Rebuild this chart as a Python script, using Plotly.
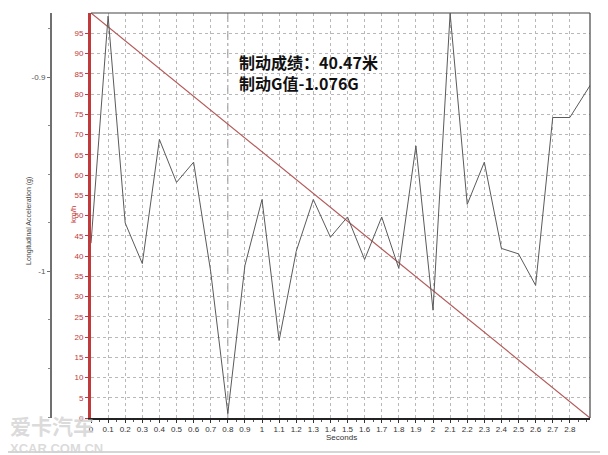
import plotly.graph_objects as go

# ---- data ----
time_s = [0, 0.1, 0.2, 0.3, 0.4, 0.5, 0.6, 0.7, 0.8, 0.9, 1.0, 1.1, 1.2, 1.3, 1.4,
          1.5, 1.6, 1.7, 1.8, 1.9, 2.0, 2.1, 2.2, 2.3, 2.4, 2.5, 2.6, 2.7, 2.8, 2.92]
accel_g = [-0.9855, -0.8686, -0.9751, -0.9960, -0.9321, -0.9542, -0.9438, -1.0002,
           -1.0732, -0.9970, -0.9630, -1.0356, -0.9897, -0.9630, -0.9824, -0.9720,
           -0.9939, -0.9720, -0.9985, -0.9354, -1.0200, -0.8672, -0.9655, -0.9438,
           -0.9882, -0.9910, -1.0072, -0.9208, -0.9208, -0.9041]
speed_time = [0, 2.918]
speed_kmh = [100, 0]
cursor_time = 0.8

x_tickvals = [round(i * 0.1, 1) for i in range(29)]
x_ticktext = ["0", "0.1", "0.2", "0.3", "0.4", "0.5", "0.6", "0.7", "0.8", "0.9", "1",
              "1.1", "1.2", "1.3", "1.4", "1.5", "1.6", "1.7", "1.8", "1.9", "2",
              "2.1", "2.2", "2.3", "2.4", "2.5", "2.6", "2.7", "2.8"]
kmh_tickvals = list(range(0, 100, 5))
g_tickvals = [-1.0, -0.9]
g_ticktext = ["-1", "-0.9"]

result_line1 = "制动成绩：40.47米"
result_line2 = "制动G值-1.076G"

RED = "#c0393b"
GRID = "#b8b8b8"
FONT = "Liberation Sans, Arial, sans-serif"

# page pixel -> paper coordinate helpers (plot area spans page x 40..590, y 13..418)
def px(x):
    return (x - 40) / 550


def py(y):
    return (418 - y) / 405


fig = go.Figure()
fig.add_trace(go.Scatter(x=time_s, y=accel_g, mode="lines", yaxis="y2",
                         line=dict(color="#5a5a5a", width=1), showlegend=False))
fig.add_trace(go.Scatter(x=speed_time, y=speed_kmh, mode="lines", yaxis="y",
                         line=dict(color="#b45a5a", width=1.2), showlegend=False))

fig.add_shape(type="line", xref="x", yref="y domain", x0=cursor_time, x1=cursor_time,
              y0=0, y1=1, line=dict(color="#8a8a8a", width=1, dash="dashdot"), layer="below")
# plot frame top and right
fig.add_shape(type="line", xref="x domain", yref="y domain", x0=0, x1=1, y0=1, y1=1,
              line=dict(color="#444", width=1.2))
fig.add_shape(type="line", xref="x domain", yref="y domain", x0=1, x1=1, y0=0, y1=1,
              line=dict(color="#444", width=1.2))
# outer picture frame
fig.add_shape(type="line", xref="paper", yref="paper", x0=px(8), x1=px(606), y0=py(452), y1=py(452),
              line=dict(color="#c8c8c8", width=1.5))
fig.add_shape(type="line", xref="paper", yref="paper", x0=px(604), x1=px(604), y0=py(452), y1=py(8),
              line=dict(color="#d8d8d8", width=1.5))

fig.update_layout(
    width=600, height=447,
    margin=dict(l=32, r=18, t=5, b=37),
    paper_bgcolor="white", plot_bgcolor="white",
    font=dict(family=FONT, size=8, color="#333"),
    xaxis=dict(domain=[px(91), 1], range=[0, 2.918], tickvals=x_tickvals, ticktext=x_ticktext,
               showgrid=True, gridcolor=GRID, griddash="3px,3px", gridwidth=1,
               zeroline=False, showline=True, linecolor="#222", linewidth=1.5,
               ticks="outside", ticklen=3, tickcolor="#333",
               minor=dict(dtick=0.05, ticks="outside", ticklen=2, tickcolor="#555"),
               tickfont=dict(size=8, color="#333")),
    yaxis=dict(range=[0, 100], tickvals=kmh_tickvals, showgrid=True, gridcolor=GRID,
               griddash="3px,3px", zeroline=False, showline=True, linecolor=RED, linewidth=3,
               ticks="outside", ticklen=3, tickcolor=RED, tickfont=dict(size=8, color=RED)),
    yaxis2=dict(overlaying="y", side="left", anchor="free", position=px(51),
                range=[-1.0755, -0.867], tickvals=g_tickvals, ticktext=g_ticktext,
                showgrid=False, zeroline=False, showline=True, linecolor="#707070", linewidth=2,
                ticks="outside", ticklen=3, tickcolor="#707070",
                minor=dict(dtick=0.025, ticks="outside", ticklen=2, tickcolor="#888"),
                tickfont=dict(size=8, color="#555")),
    annotations=[
        dict(text="km/h", xref="paper", yref="paper", x=px(73), y=py(215),
             xanchor="center", yanchor="middle",
             textangle=-90, showarrow=False, font=dict(size=8, color=RED)),
        dict(text="Longitudinal Acceleration (g)", xref="paper", yref="paper",
             x=px(29), y=py(221), xanchor="center", yanchor="middle", textangle=-90,
             showarrow=False, font=dict(size=7, color="#444")),
        dict(text="Seconds", xref="paper", yref="paper", x=px(341), y=py(437),
             xanchor="center", yanchor="middle",
             showarrow=False, font=dict(size=8, color="#333")),
        dict(text="<b>" + result_line1 + "</b><br><b>" + result_line2 + "</b>", xref="paper",
             yref="paper", x=px(237), y=py(48), xanchor="left", yanchor="top",
             align="left", showarrow=False,
             font=dict(size=16, color="#111", family="Noto Sans CJK SC, sans-serif")),
        dict(text="<b>爱卡汽车</b>", xref="paper", yref="paper", x=px(8),
             y=py(408), xanchor="left", yanchor="top", showarrow=False,
             font=dict(size=21, color="rgba(210,210,210,0.8)",
                       family="Noto Sans CJK SC, sans-serif")),
        dict(text="<b>XCAR.COM.CN</b>", xref="paper", yref="paper", x=px(8),
             y=py(439), xanchor="left", yanchor="top", showarrow=False,
             font=dict(size=13, color="rgba(210,210,210,0.8)", family=FONT)),
    ],
)

fig.write_html("out.html")
